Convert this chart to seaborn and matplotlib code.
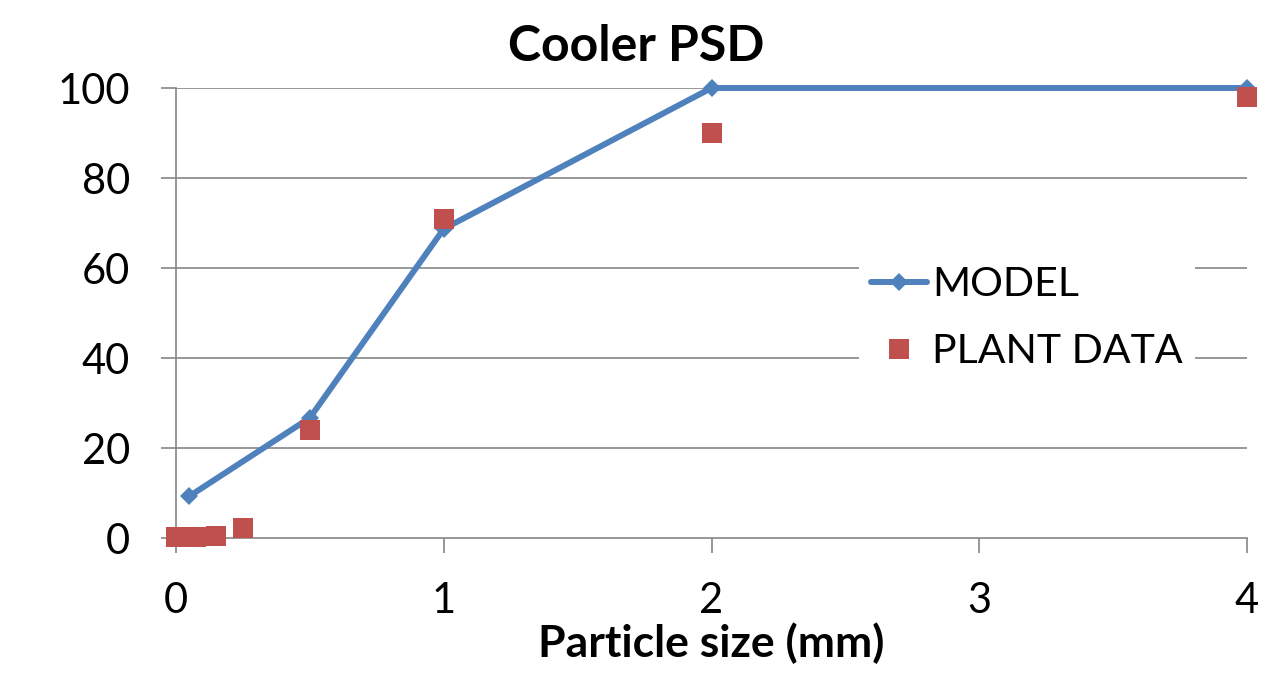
import matplotlib
matplotlib.use("Agg")
import matplotlib.pyplot as plt
import seaborn as sns
import pandas as pd
from matplotlib.lines import Line2D

model_x = [0.05, 0.5, 1.0, 2.0, 4.0]
model_y = [9.3, 26.7, 68.7, 100.0, 100.0]
plant_x = [0.0, 0.075, 0.15, 0.25, 0.5, 1.0, 2.0, 4.0]
plant_y = [0.2, 0.2, 0.5, 2.2, 24.0, 70.9, 90.0, 98.0]
x_ticks = [0, 1, 2, 3, 4]
y_ticks = [0, 20, 40, 60, 80, 100]

blue = "#4F81BD"
red = "#C0504D"
grid_c = "#868686"

sns.set_style("white")
plt.rcParams['font.family'] = ['Lato', 'DejaVu Sans']
plt.rcParams['text.color'] = 'black'
plt.rcParams['xtick.color'] = 'black'
plt.rcParams['ytick.color'] = 'black'
plt.rcParams['axes.labelcolor'] = 'black'

W, H = 1273, 676
fig = plt.figure(figsize=(W/100, H/100), dpi=100)
ax = fig.add_axes([176/W, 1-538/H, (1247-176)/W, (538-88)/H])

df_m = pd.DataFrame({"x": model_x, "y": model_y})
df_p = pd.DataFrame({"x": plant_x, "y": plant_y})

for yv in y_ticks[1:]:
    ax.axhline(yv, color=grid_c, lw=1.2, zorder=0)

sns.lineplot(data=df_m, x="x", y="y", ax=ax, color=blue, lw=4.3, marker="D",
             markersize=9.5, markeredgewidth=0, clip_on=False, zorder=3, sort=False)
sns.scatterplot(data=df_p, x="x", y="y", ax=ax, color=red, marker="s", s=14.4**2,
                linewidth=0, clip_on=False, zorder=4)

ax.set_xlim(0, 4)
ax.set_ylim(0, 100)
ax.set_xticks(x_ticks)
ax.set_xticklabels([str(v) for v in x_ticks])
ax.set_yticks(y_ticks)
ax.tick_params(axis='both', labelsize=30, length=11, width=1.2, color=grid_c,
               direction='out', labelcolor='black')
ax.tick_params(axis='x', bottom=True, pad=21)
ax.tick_params(axis='y', left=True, pad=22)
for s in ["top", "right"]:
    ax.spines[s].set_visible(False)
for s in ["left", "bottom"]:
    ax.spines[s].set_color(grid_c)
    ax.spines[s].set_linewidth(1.2)

ax.set_ylabel("")
ax.set_xlabel("Particle size (mm)", fontsize=32, fontweight="bold", va="baseline")
ax.xaxis.set_label_coords(0.5, (538-657)/450)
fig.text(0.5, 1-61/H, "Cooler PSD", fontsize=36, fontweight="bold",
         ha="center", va="baseline")

handles = [Line2D([], [], color=blue, lw=4.3, marker="D", markersize=9.5, markeredgewidth=0),
           Line2D([], [], color=red, lw=0, marker="s", markersize=14.4, markeredgewidth=0)]
leg = ax.legend(handles, ["MODEL", "PLANT DATA"], loc="center left",
                bbox_to_anchor=((859-176)/1071, (538-318)/450), borderaxespad=0,
                fontsize=29.5, frameon=True, handlelength=1.37, handletextpad=0.12,
                labelspacing=0.74, borderpad=0.3)
leg.get_frame().set_facecolor("white")
leg.get_frame().set_edgecolor("none")
leg.get_frame().set_alpha(1.0)

fig.savefig("out.png", dpi=100, facecolor="white")
